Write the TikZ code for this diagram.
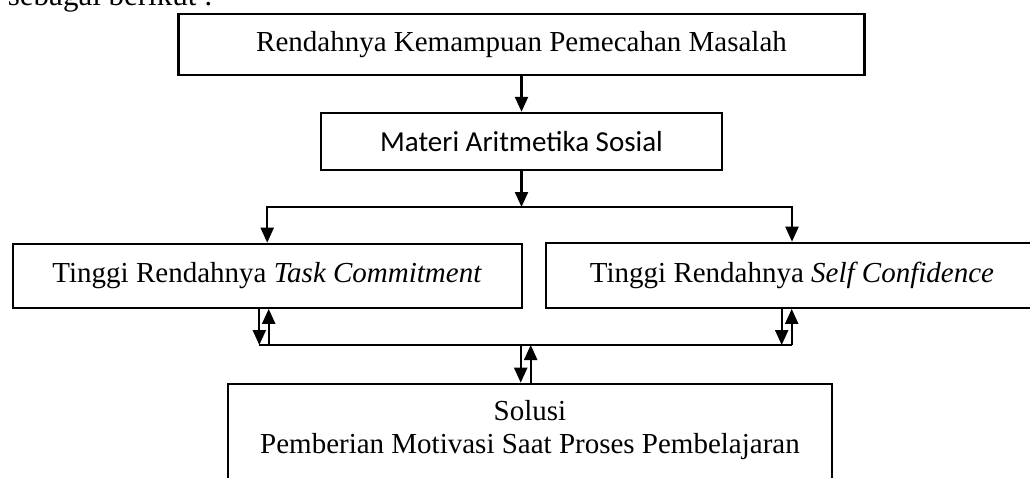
\documentclass[tikz,border=0pt]{standalone}
\usepackage{fontspec}
\setmainfont{Liberation Serif}
\newfontfamily\calibri{Carlito}
\usetikzlibrary{arrows.meta}
\begin{document}
\begin{tikzpicture}[x=1pt,y=-1pt,
  box/.style={draw=black,line width=2.2pt,fill=white,inner sep=0pt,
    font=\fontsize{29}{33}\selectfont},
  conn/.style={draw=black,line width=2.2pt},
  arr/.style={conn,-{Triangle[length=15pt,width=13pt]}},
  plain/.style={inner sep=0pt,font=\fontsize{29}{33}\selectfont}]
\useasboundingbox (0,0) rectangle (1030,477);
\node[plain,anchor=base east,font=\fontsize{31}{33}\selectfont] (intro) at (213,5) {sebagai berikut :};
\node[box,minimum width=686pt,minimum height=61pt] (top) at (521.5,44.5)
  {Rendahnya Kemampuan Pemecahan Masalah};
\node[box,minimum width=401pt,minimum height=57pt,font=\calibri\fontsize{29}{33}\selectfont]
  (materi) at (521.5,141.4) {Materi Aritmetika Sosial};
\node[box,minimum width=509pt,minimum height=64pt] (task) at (267.2,275.8)
  {Tinggi Rendahnya \textit{Task Commitment}};
\node[box,minimum width=492pt,minimum height=65pt] (self) at (792,275.3)
  {Tinggi Rendahnya \textit{Self Confidence}};
\node[box,minimum width=604pt,minimum height=140pt,anchor=north] (sol) at (530,382.7) {};
\node[plain,align=center,anchor=base] (soltext) at (530,453)
  {Solusi\\Pemberian Motivasi Saat Proses Pembelajaran};
% connectors
\coordinate (split) at (521.5,207);
\draw[arr] (top) -- (materi);
\draw[arr] (materi.south) -- (split);
\draw[arr] (split) -| (task.north);
\draw[arr] (split) -| (self.north);
\coordinate (tl1) at (259.3,345);
\coordinate (tl2) at (268.7,345);
\coordinate (c1) at (520.7,345);
\coordinate (c2) at (530.7,345);
\coordinate (sr1) at (781.7,345);
\coordinate (sr2) at (791.7,345);
\draw[conn] (tl1) -- (sr2);
\draw[arr] (task.south -| tl1) -- (tl1);
\draw[arr] (tl2) -- (task.south -| tl2);
\draw[arr] (self.south -| sr1) -- (sr1);
\draw[arr] (sr2) -- (self.south -| sr2);
\draw[arr] (c1) -- (sol.north -| c1);
\draw[arr] (sol.north -| c2) -- (c2);
\end{tikzpicture}
\end{document}
